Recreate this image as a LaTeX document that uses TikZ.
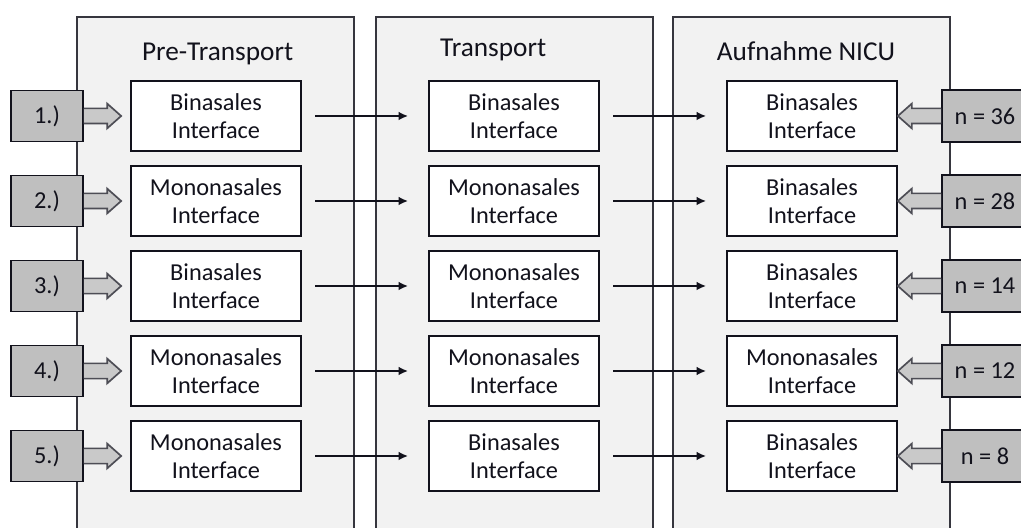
\documentclass[tikz,border=0pt]{standalone}
\usepackage{fontspec}
\setmainfont{Carlito}
\usetikzlibrary{calc,arrows.meta}

\definecolor{ink}{RGB}{18,18,28}

% grey block arrow from #1 to the tip #2 (left or right)
\newcommand{\fatarrow}[2]{%
  \filldraw[fat] let \p1=(#1), \p2=(#2), \n1={sign(\x2-\x1)} in
    (\x1,{\y1+0.19cm}) -- ({\x2-\n1*0.35cm},{\y1+0.19cm}) -- ({\x2-\n1*0.35cm},{\y1+0.31cm})
    -- (\x2,\y1) -- ({\x2-\n1*0.35cm},{\y1-0.31cm}) -- ({\x2-\n1*0.35cm},{\y1-0.19cm})
    -- (\x1,{\y1-0.19cm});
}

\begin{document}
\begin{tikzpicture}

\tikzstyle{panel} = [draw=ink!85, line width=1.1pt, fill=gray!10]
\tikzstyle{iface} = [rectangle, draw=ink, line width=1.2pt, fill=white, text=ink,
  minimum width=4.25cm, minimum height=1.75cm, align=center,
  font=\fontsize{17.3}{19.9}\selectfont]
\tikzstyle{title} = [text=ink, anchor=base, font=\fontsize{19.4}{23}\selectfont]
\tikzstyle{tag} = [rectangle, draw=ink, line width=1.2pt, fill=gray!50, text=ink,
  minimum height=1.3cm, font=\fontsize{17.3}{19.9}\selectfont]
\tikzstyle{fat} = [draw=ink!75, line width=1.2pt, fill=gray!42]
\tikzstyle{flow} = [-{Latex[length=0.24cm,width=0.22cm]}, line width=1.8pt, ink,
  shorten <=0.33cm, shorten >=0.5cm]

\useasboundingbox (0,0) rectangle (25.525,13.2);
\clip (0,0) rectangle (25.525,13.2);

% the three phases
\draw[panel] (1.925,-0.3) rectangle (8.85,12.775);
\draw[panel] (9.4,-0.3) rectangle (16.325,12.775);
\draw[panel] (16.825,-0.3) rectangle (23.75,12.775);

\node[title] (hp) at (5.44,11.675) {Pre-Transport};
\node[title] (ht) at (12.33,11.775) {Transport};
\node[title] (ha) at (20.15,11.675) {Aufnahme NICU};

% Pre-Transport
\node[iface] (p1) at (5.4,10.3) {Binasales\\Interface};
\node[iface] (p2) at (5.4,8.175) {Mononasales\\Interface};
\node[iface] (p3) at (5.4,6.05) {Binasales\\Interface};
\node[iface] (p4) at (5.4,3.925) {Mononasales\\Interface};
\node[iface] (p5) at (5.4,1.8) {Mononasales\\Interface};

% Transport
\node[iface] (t1) at (12.85,10.3) {Binasales\\Interface};
\node[iface] (t2) at (12.85,8.175) {Mononasales\\Interface};
\node[iface] (t3) at (12.85,6.05) {Mononasales\\Interface};
\node[iface] (t4) at (12.85,3.925) {Mononasales\\Interface};
\node[iface] (t5) at (12.85,1.8) {Binasales\\Interface};

% Aufnahme NICU
\node[iface] (a1) at (20.3,10.3) {Binasales\\Interface};
\node[iface] (a2) at (20.3,8.175) {Binasales\\Interface};
\node[iface] (a3) at (20.3,6.05) {Binasales\\Interface};
\node[iface] (a4) at (20.3,3.925) {Mononasales\\Interface};
\node[iface] (a5) at (20.3,1.8) {Binasales\\Interface};

\draw[flow] (p1) -- (t1);
\draw[flow] (p2) -- (t2);
\draw[flow] (p3) -- (t3);
\draw[flow] (p4) -- (t4);
\draw[flow] (p5) -- (t5);

\draw[flow] (t1) -- (a1);
\draw[flow] (t2) -- (a2);
\draw[flow] (t3) -- (a3);
\draw[flow] (t4) -- (a4);
\draw[flow] (t5) -- (a5);

% case numbers on the left
\node[tag, minimum width=1.8cm, minimum height=1.275cm] (l1) at (1.175,10.3) {1.)};
\node[tag, minimum width=1.8cm, minimum height=1.275cm] (l2) at (1.175,8.175) {2.)};
\node[tag, minimum width=1.8cm, minimum height=1.275cm] (l3) at (1.175,6.05) {3.)};
\node[tag, minimum width=1.8cm, minimum height=1.275cm] (l4) at (1.175,3.925) {4.)};
\node[tag, minimum width=1.8cm, minimum height=1.275cm] (l5) at (1.175,1.8) {5.)};

\fatarrow{l1.east}{[xshift=-0.225cm]p1.west}
\fatarrow{l2.east}{[xshift=-0.225cm]p2.west}
\fatarrow{l3.east}{[xshift=-0.225cm]p3.west}
\fatarrow{l4.east}{[xshift=-0.225cm]p4.west}
\fatarrow{l5.east}{[xshift=-0.225cm]p5.west}

% counts on the right
\node[tag, minimum width=2.15cm] (n1) at (24.625,10.3) {n = 36};
\node[tag, minimum width=2.15cm] (n2) at (24.625,8.175) {n = 28};
\node[tag, minimum width=2.15cm] (n3) at (24.625,6.05) {n = 14};
\node[tag, minimum width=2.15cm] (n4) at (24.625,3.925) {n = 12};
\node[tag, minimum width=2.15cm] (n5) at (24.625,1.8) {n = 8};

\fatarrow{n1.west}{a1.east}
\fatarrow{n2.west}{a2.east}
\fatarrow{n3.west}{a3.east}
\fatarrow{n4.west}{a4.east}
\fatarrow{n5.west}{a5.east}

\end{tikzpicture}
\end{document}
